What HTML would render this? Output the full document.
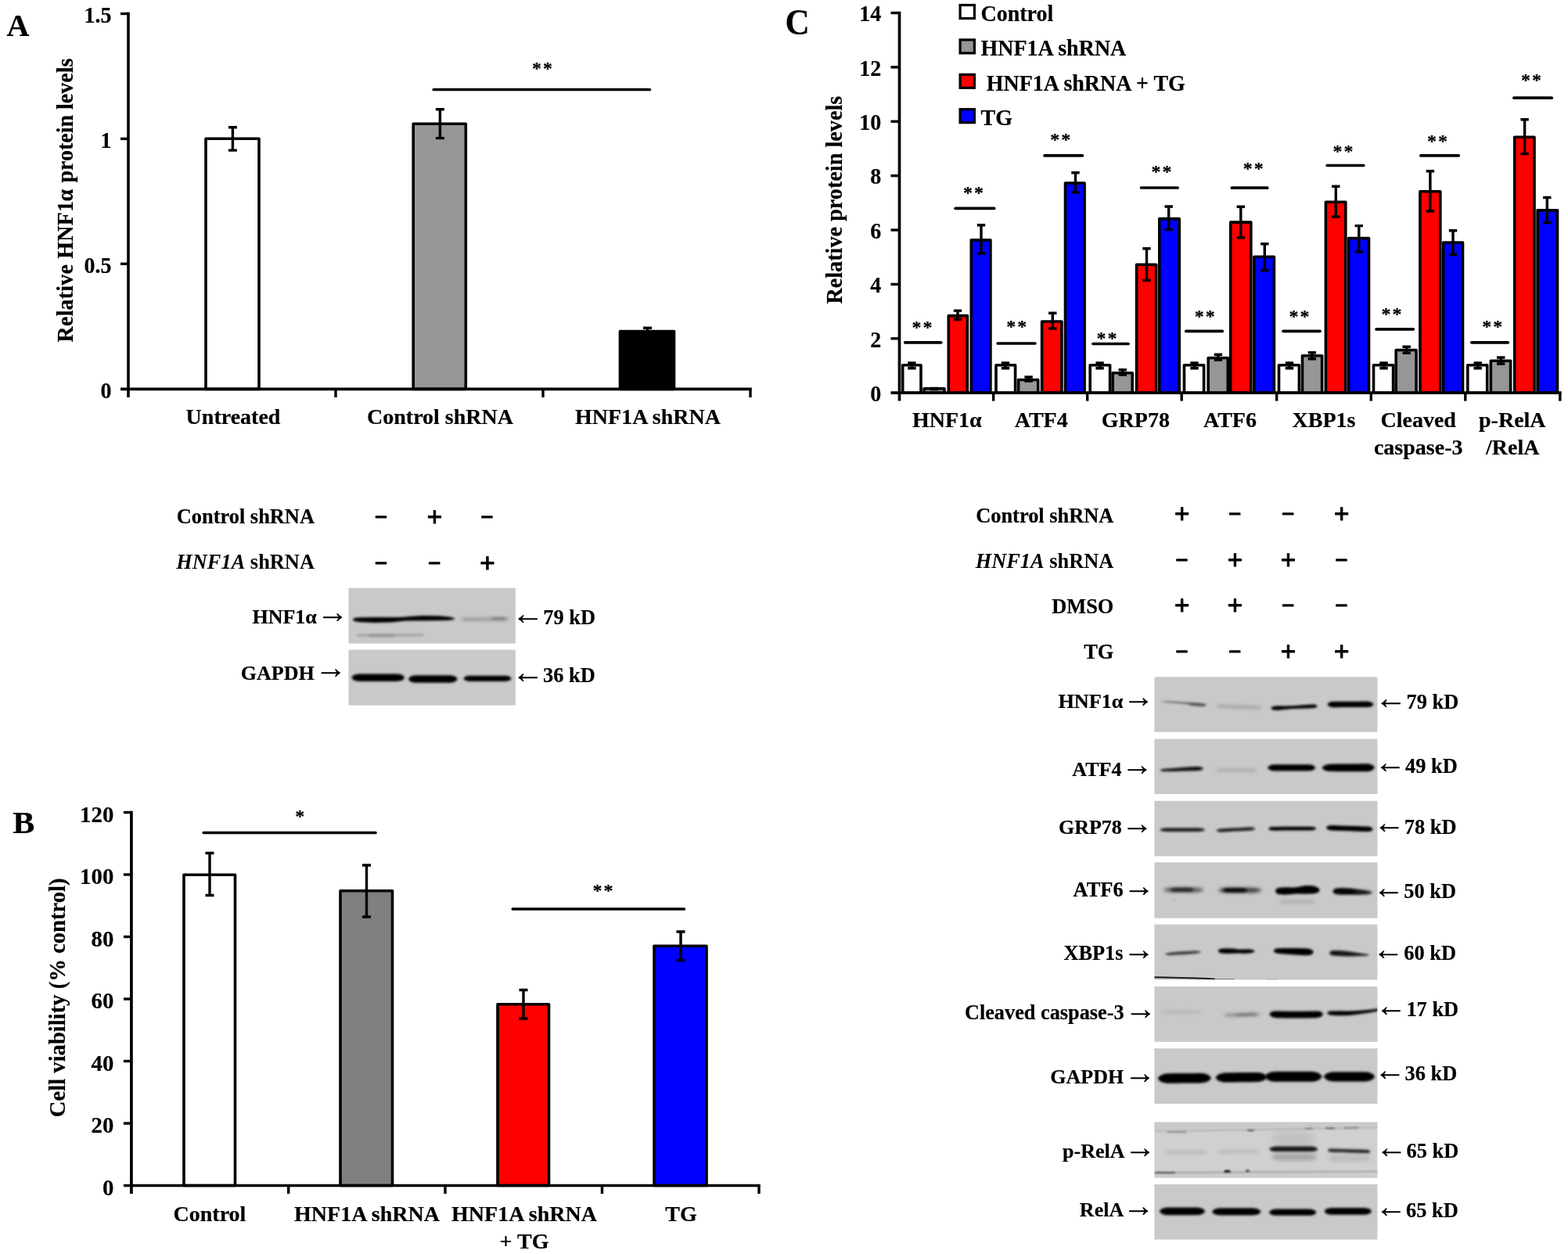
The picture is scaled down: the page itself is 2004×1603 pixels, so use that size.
<!DOCTYPE html>
<html lang="en"><head><meta charset="utf-8"><title>Figure</title>
<style>
html,body{margin:0;padding:0;background:#fff}
svg{display:block}
svg text{font-family:"Liberation Serif",serif;font-weight:bold;fill:#000}
</style></head><body>
<svg width="2004" height="1603" viewBox="0 0 2004 1603">
<defs>
<filter id="f0_78" x="-30%" y="-200%" width="160%" height="500%"><feGaussianBlur stdDeviation="0.78"/></filter>
<filter id="f0_9" x="-30%" y="-200%" width="160%" height="500%"><feGaussianBlur stdDeviation="0.9"/></filter>
<filter id="f1_01" x="-30%" y="-200%" width="160%" height="500%"><feGaussianBlur stdDeviation="1.01"/></filter>
<filter id="f1_12" x="-30%" y="-200%" width="160%" height="500%"><feGaussianBlur stdDeviation="1.12"/></filter>
<filter id="f1_34" x="-30%" y="-200%" width="160%" height="500%"><feGaussianBlur stdDeviation="1.34"/></filter>
<filter id="f1_46" x="-30%" y="-200%" width="160%" height="500%"><feGaussianBlur stdDeviation="1.46"/></filter>
<filter id="f1_57" x="-30%" y="-200%" width="160%" height="500%"><feGaussianBlur stdDeviation="1.57"/></filter>
<filter id="f1_62" x="-30%" y="-200%" width="160%" height="500%"><feGaussianBlur stdDeviation="1.62"/></filter>
<filter id="f1_68" x="-30%" y="-200%" width="160%" height="500%"><feGaussianBlur stdDeviation="1.68"/></filter>
<filter id="f1_79" x="-30%" y="-200%" width="160%" height="500%"><feGaussianBlur stdDeviation="1.79"/></filter>
<filter id="f1_9" x="-30%" y="-200%" width="160%" height="500%"><feGaussianBlur stdDeviation="1.9"/></filter>
<filter id="f2_13" x="-30%" y="-200%" width="160%" height="500%"><feGaussianBlur stdDeviation="2.13"/></filter>
<filter id="f2_24" x="-30%" y="-200%" width="160%" height="500%"><feGaussianBlur stdDeviation="2.24"/></filter>
<filter id="f2_91" x="-30%" y="-200%" width="160%" height="500%"><feGaussianBlur stdDeviation="2.91"/></filter>
<filter id="f3_36" x="-30%" y="-200%" width="160%" height="500%"><feGaussianBlur stdDeviation="3.36"/></filter>
<clipPath id="c1"><rect x="445.5" y="751.7" width="213.3" height="71"/></clipPath>
<clipPath id="c2"><rect x="445.5" y="830.5" width="213.3" height="71.2"/></clipPath>
<clipPath id="c3"><rect x="1475.4" y="865.3" width="285" height="70.5"/></clipPath>
<clipPath id="c4"><rect x="1475.4" y="944.6" width="285" height="70.4"/></clipPath>
<clipPath id="c5"><rect x="1475.4" y="1023.8" width="285" height="70.6"/></clipPath>
<clipPath id="c6"><rect x="1475.4" y="1102.3" width="285" height="71.4"/></clipPath>
<clipPath id="c7"><rect x="1475.4" y="1181.7" width="285" height="70.7"/></clipPath>
<clipPath id="c8"><rect x="1475.4" y="1261" width="285" height="70.8"/></clipPath>
<clipPath id="c9"><rect x="1475.4" y="1340.2" width="285" height="70.7"/></clipPath>
<clipPath id="c10"><rect x="1475.4" y="1434.4" width="285" height="71.3"/></clipPath>
<clipPath id="c11"><rect x="1475.4" y="1514" width="285" height="70.5"/></clipPath>
</defs>
<rect width="2004" height="1603" fill="#fff"/>
<text x="8.5" y="45.5" font-size="40" stroke="#000" stroke-width="0.2" stroke-linejoin="round">A</text>
<text font-size="40" transform="translate(16.3 1065) scale(1.05 1.02)" stroke="#000" stroke-width="0.2" stroke-linejoin="round">B</text>
<text font-size="40" transform="translate(1003.6 44.3) scale(1.08 1.15)" stroke="#000" stroke-width="0.2" stroke-linejoin="round">C</text>
<rect x="263.00" y="177.20" width="68.00" height="320.20" fill="#fff" stroke="#000" stroke-width="3.6" stroke-linejoin="round"/>
<rect x="528.20" y="158.20" width="67.10" height="339.20" fill="#969696" stroke="#000" stroke-width="3.6" stroke-linejoin="round"/>
<rect x="792.50" y="423.50" width="69.00" height="73.90" fill="#000" stroke="#000" stroke-width="3.6" stroke-linejoin="round"/>
<path d="M291.90 162.70H302.90M291.90 192.10H302.90M297.40 162.70V192.10" stroke="#000" stroke-width="3.4" fill="none"/>
<path d="M556.90 139.70H567.90M556.90 176.60H567.90M562.40 139.70V176.60" stroke="#000" stroke-width="3.4" fill="none"/>
<path d="M822.00 419.30H833.00M822.00 424.00H833.00M827.50 419.30V424.00" stroke="#000" stroke-width="3.4" fill="none"/>
<line x1="164" y1="15.7" x2="164" y2="508.0" stroke="#000" stroke-width="3.6"/>
<line x1="154" y1="497.4" x2="960.8" y2="497.4" stroke="#000" stroke-width="3.6"/>
<line x1="154" y1="17.5" x2="164" y2="17.5" stroke="#000" stroke-width="3.4"/>
<line x1="154" y1="177.4" x2="164" y2="177.4" stroke="#000" stroke-width="3.4"/>
<line x1="154" y1="337.3" x2="164" y2="337.3" stroke="#000" stroke-width="3.4"/>
<line x1="429" y1="497.4" x2="429" y2="508.0" stroke="#000" stroke-width="3.4"/>
<line x1="694" y1="497.4" x2="694" y2="508.0" stroke="#000" stroke-width="3.4"/>
<line x1="959" y1="497.4" x2="959" y2="508.0" stroke="#000" stroke-width="3.4"/>
<text font-size="28" transform="translate(142.5 29.1) scale(1 1.04)" text-anchor="end" stroke="#000" stroke-width="0.2" stroke-linejoin="round">1.5</text>
<text font-size="28" transform="translate(142.5 189.0) scale(1 1.04)" text-anchor="end" stroke="#000" stroke-width="0.2" stroke-linejoin="round">1</text>
<text font-size="28" transform="translate(142.5 348.90000000000003) scale(1 1.04)" text-anchor="end" stroke="#000" stroke-width="0.2" stroke-linejoin="round">0.5</text>
<text font-size="28" transform="translate(142.5 509.0) scale(1 1.04)" text-anchor="end" stroke="#000" stroke-width="0.2" stroke-linejoin="round">0</text>
<text font-size="28" transform="translate(93.1 437.4) rotate(-90) scale(1 1.04)" stroke="#000" stroke-width="0.2" stroke-linejoin="round"><tspan letter-spacing="0.2">Relative HNF1</tspan><tspan dx="-0.56">α</tspan><tspan dx="1.34"> protein levels</tspan></text>
<text x="298" y="541.5" font-size="28" text-anchor="middle" stroke="#000" stroke-width="0.2" stroke-linejoin="round">Untreated</text>
<text x="562.5" y="541.5" font-size="28" text-anchor="middle" stroke="#000" stroke-width="0.2" stroke-linejoin="round">Control shRNA</text>
<text x="828" y="541.5" font-size="28" text-anchor="middle" stroke="#000" stroke-width="0.2" stroke-linejoin="round">HNF1A shRNA</text>
<line x1="554.3" y1="114.5" x2="830.4" y2="114.5" stroke="#000" stroke-width="3.7" stroke-linecap="round"/>
<text x="679.9" y="95.39" font-size="24" letter-spacing="2" stroke="#000" stroke-width="0.2" stroke-linejoin="round">**</text>
<text x="402" y="669" font-size="26.4" text-anchor="end" stroke="#000" stroke-width="0.2" stroke-linejoin="round">Control shRNA</text>
<text x="402" y="727" font-size="26.4" text-anchor="end"><tspan style="font-style:italic">HNF1A</tspan> shRNA</text>
<text x="487.2" y="670.04" font-size="27.2" text-anchor="middle" style="font-weight:normal;font-family:'Liberation Sans',sans-serif;" stroke="#000" stroke-width="1.37" stroke-linejoin="round">−</text>
<text x="555.4" y="672.06" font-size="33.25" text-anchor="middle" style="font-weight:normal;font-family:'Liberation Sans',sans-serif;" stroke="#000" stroke-width="1.04" stroke-linejoin="round">+</text>
<text x="622.7" y="670.04" font-size="27.2" text-anchor="middle" style="font-weight:normal;font-family:'Liberation Sans',sans-serif;" stroke="#000" stroke-width="1.37" stroke-linejoin="round">−</text>
<text x="487.2" y="728.84" font-size="27.2" text-anchor="middle" style="font-weight:normal;font-family:'Liberation Sans',sans-serif;" stroke="#000" stroke-width="1.37" stroke-linejoin="round">−</text>
<text x="555.4" y="728.84" font-size="27.2" text-anchor="middle" style="font-weight:normal;font-family:'Liberation Sans',sans-serif;" stroke="#000" stroke-width="1.37" stroke-linejoin="round">−</text>
<text x="622.9" y="730.86" font-size="33.25" text-anchor="middle" style="font-weight:normal;font-family:'Liberation Sans',sans-serif;" stroke="#000" stroke-width="1.04" stroke-linejoin="round">+</text>
<rect x="445.5" y="751.7" width="213.3" height="71" fill="#c9c9c9"/>
<g clip-path="url(#c1)">
<path d="M451.0 791.2L454.0 789.8L460.0 789.2L480.0 789.0L500.0 788.9L510.0 789.1L516.0 788.8L524.0 788.0L540.0 787.1L560.0 787.3L572.0 788.3L578.0 789.3L581.0 790.5L581.0 791.5L578.0 792.3L572.0 792.9L560.0 793.3L540.0 793.5L524.0 793.6L516.0 793.8L510.0 794.5L500.0 795.5L480.0 796.0L460.0 795.2L454.0 794.2L451.0 792.8Z" fill="#000" filter="url(#f1_46)"/>
<path d="M590.0 791.6L590.9 790.7L592.1 790.3L593.5 790.2L600.0 790.1L610.0 790.0L620.0 789.9L630.0 789.8L640.0 789.7L646.5 789.6L647.9 789.8L649.1 790.1L650.0 791.0L650.0 791.4L649.1 792.3L647.9 792.7L646.5 792.8L640.0 792.9L630.0 793.0L620.0 793.1L610.0 793.2L600.0 793.3L593.5 793.4L592.1 793.2L590.9 792.9L590.0 792.0Z" fill="#555" opacity="0.55" filter="url(#f1_9)"/>
<path d="M628.0 790.4L629.0 789.4L630.3 789.0L631.0 788.9L631.9 788.9L634.0 788.9L637.0 788.9L640.0 788.9L642.1 788.9L643.0 788.9L643.7 789.0L645.0 789.4L646.0 790.4L646.0 790.8L645.0 791.8L643.7 792.2L643.0 792.3L642.1 792.4L640.0 792.4L637.0 792.4L634.0 792.4L631.9 792.4L631.0 792.3L630.3 792.2L629.0 791.8L628.0 790.8Z" fill="#444" opacity="0.35" filter="url(#f1_79)"/>
<path d="M456.0 812.0L456.8 811.2L458.0 810.8L459.3 810.7L470.3 810.6L484.7 810.5L499.0 810.4L513.3 810.3L527.7 810.2L538.7 810.1L540.0 810.2L541.2 810.6L542.0 811.4L542.0 811.8L541.2 812.6L540.0 813.0L538.7 813.1L527.7 813.2L513.3 813.3L499.0 813.4L484.7 813.5L470.3 813.6L459.3 813.7L458.0 813.6L456.8 813.2L456.0 812.4Z" fill="#666" opacity="0.42" filter="url(#f1_79)"/>
<path d="M470.0 812.4L470.8 811.6L472.0 811.2L473.3 811.1L475.8 811.1L481.7 811.1L487.5 811.1L493.3 811.1L499.2 811.1L501.7 811.1L503.0 811.2L504.2 811.6L505.0 812.4L505.0 812.8L504.2 813.6L503.0 814.0L501.7 814.1L499.2 814.1L493.3 814.1L487.5 814.1L481.7 814.1L475.8 814.1L473.3 814.1L472.0 814.0L470.8 813.6L470.0 812.8Z" fill="#555" opacity="0.3" filter="url(#f1_68)"/>
</g>
<rect x="445.5" y="830.5" width="213.3" height="71.2" fill="#c9c9c9"/>
<g clip-path="url(#c2)">
<path d="M449.5 865.6L452.1 863.0L455.8 861.8L460.1 861.4L460.8 861.4L472.0 861.4L483.2 861.4L494.5 861.4L505.7 861.4L506.4 861.4L510.7 861.8L514.4 863.0L517.0 865.6L517.0 866.8L514.4 869.4L510.7 870.6L506.4 871.0L505.7 871.0L494.5 871.0L483.2 871.0L472.0 871.0L460.8 871.0L460.1 871.0L455.8 870.6L452.1 869.4L449.5 866.8Z" fill="#000" filter="url(#f1_68)"/>
<path d="M522.0 867.4L524.6 864.8L528.3 863.6L532.4 863.2L532.6 863.2L542.8 863.2L553.2 863.2L563.7 863.2L573.9 863.2L574.1 863.2L578.2 863.6L581.9 864.8L584.5 867.4L584.5 868.6L581.9 871.2L578.2 872.4L574.1 872.8L573.9 872.8L563.7 872.8L553.2 872.8L542.8 872.8L532.6 872.8L532.4 872.8L528.3 872.4L524.6 871.2L522.0 868.6Z" fill="#000" filter="url(#f1_68)"/>
<path d="M592.5 866.9L594.5 864.9L597.3 864.0L600.4 863.7L602.7 863.7L612.8 863.7L623.0 863.7L633.2 863.7L643.3 863.7L645.6 863.7L648.7 864.0L651.5 864.9L653.5 866.9L653.5 867.7L651.5 869.7L648.7 870.6L645.6 870.9L643.3 870.9L633.2 870.9L623.0 870.9L612.8 870.9L602.7 870.9L600.4 870.9L597.3 870.6L594.5 869.7L592.5 867.7Z" fill="#000" filter="url(#f1_68)"/>
</g>
<text x="404.9" y="796.6" font-size="26.0" text-anchor="end" stroke="#000" stroke-width="0.2" stroke-linejoin="round">HNF1α</text>
<text x="404.93" y="796.23" font-size="40.54" style="font-weight:normal;" stroke="#000" stroke-width="0.25" stroke-linejoin="round">→</text>
<text x="401.7" y="868.5" font-size="26.0" text-anchor="end" stroke="#000" stroke-width="0.2" stroke-linejoin="round">GAPDH</text>
<text x="402.73" y="867.23" font-size="40.54" style="font-weight:normal;" stroke="#000" stroke-width="0.25" stroke-linejoin="round">→</text>
<text x="654.46" y="798.29" font-size="40.88" style="font-weight:normal;" stroke="#000" stroke-width="0.25" stroke-linejoin="round">←</text>
<text x="694.3" y="797.9" font-size="26.4" stroke="#000" stroke-width="0.2" stroke-linejoin="round">79 kD</text>
<text x="654.46" y="873.09" font-size="40.88" style="font-weight:normal;" stroke="#000" stroke-width="0.25" stroke-linejoin="round">←</text>
<text x="694.1" y="871.8" font-size="26.4" stroke="#000" stroke-width="0.2" stroke-linejoin="round">36 kD</text>
<rect x="235.00" y="1118.20" width="65.50" height="397.30" fill="#fff" stroke="#000" stroke-width="3.6" stroke-linejoin="round"/>
<rect x="435.00" y="1138.70" width="66.50" height="376.80" fill="#808080" stroke="#000" stroke-width="3.6" stroke-linejoin="round"/>
<rect x="636.00" y="1283.70" width="65.50" height="231.80" fill="#fe0000" stroke="#000" stroke-width="3.6" stroke-linejoin="round"/>
<rect x="836.00" y="1209.20" width="67.00" height="306.30" fill="#0000fe" stroke="#000" stroke-width="3.6" stroke-linejoin="round"/>
<path d="M262.50 1090.50H273.50M262.50 1144.50H273.50M268.00 1090.50V1144.50" stroke="#000" stroke-width="3.4" fill="none"/>
<path d="M463.00 1106.00H474.00M463.00 1172.00H474.00M468.50 1106.00V1172.00" stroke="#000" stroke-width="3.4" fill="none"/>
<path d="M663.50 1265.50H674.50M663.50 1302.00H674.50M669.00 1265.50V1302.00" stroke="#000" stroke-width="3.4" fill="none"/>
<path d="M864.50 1191.00H875.50M864.50 1227.50H875.50M870.00 1191.00V1227.50" stroke="#000" stroke-width="3.4" fill="none"/>
<line x1="167.9" y1="1036.7" x2="167.9" y2="1526.1" stroke="#000" stroke-width="3.8"/>
<line x1="157.9" y1="1515.5" x2="971.7" y2="1515.5" stroke="#000" stroke-width="3.7"/>
<line x1="157.9" y1="1038.5" x2="167.9" y2="1038.5" stroke="#000" stroke-width="3.4"/>
<line x1="157.9" y1="1118.0" x2="167.9" y2="1118.0" stroke="#000" stroke-width="3.4"/>
<line x1="157.9" y1="1197.5" x2="167.9" y2="1197.5" stroke="#000" stroke-width="3.4"/>
<line x1="157.9" y1="1277.0" x2="167.9" y2="1277.0" stroke="#000" stroke-width="3.4"/>
<line x1="157.9" y1="1356.5" x2="167.9" y2="1356.5" stroke="#000" stroke-width="3.4"/>
<line x1="157.9" y1="1436.0" x2="167.9" y2="1436.0" stroke="#000" stroke-width="3.4"/>
<line x1="368.7" y1="1515.5" x2="368.7" y2="1526.0" stroke="#000" stroke-width="3.4"/>
<line x1="569" y1="1515.5" x2="569" y2="1526.0" stroke="#000" stroke-width="3.4"/>
<line x1="769.5" y1="1515.5" x2="769.5" y2="1526.0" stroke="#000" stroke-width="3.4"/>
<line x1="970" y1="1515.5" x2="970" y2="1526.0" stroke="#000" stroke-width="3.4"/>
<text font-size="28" transform="translate(145.3 1050.6) scale(1.03 1.03)" text-anchor="end" stroke="#000" stroke-width="0.2" stroke-linejoin="round">120</text>
<text font-size="28" transform="translate(145.3 1130.1) scale(1.03 1.03)" text-anchor="end" stroke="#000" stroke-width="0.2" stroke-linejoin="round">100</text>
<text font-size="28" transform="translate(145.3 1209.6) scale(1.03 1.03)" text-anchor="end" stroke="#000" stroke-width="0.2" stroke-linejoin="round">80</text>
<text font-size="28" transform="translate(145.3 1289.1) scale(1.03 1.03)" text-anchor="end" stroke="#000" stroke-width="0.2" stroke-linejoin="round">60</text>
<text font-size="28" transform="translate(145.3 1368.6) scale(1.03 1.03)" text-anchor="end" stroke="#000" stroke-width="0.2" stroke-linejoin="round">40</text>
<text font-size="28" transform="translate(145.3 1448.1) scale(1.03 1.03)" text-anchor="end" stroke="#000" stroke-width="0.2" stroke-linejoin="round">20</text>
<text font-size="28" transform="translate(145.3 1527.6) scale(1.03 1.03)" text-anchor="end" stroke="#000" stroke-width="0.2" stroke-linejoin="round">0</text>
<text font-size="28" transform="translate(83 1275.3) rotate(-90) scale(1.023 1.02)" text-anchor="middle" stroke="#000" stroke-width="0.2" stroke-linejoin="round">Cell viability (% control)</text>
<text x="268" y="1561" font-size="28" text-anchor="middle" stroke="#000" stroke-width="0.2" stroke-linejoin="round">Control</text>
<text x="469" y="1561" font-size="28" text-anchor="middle" stroke="#000" stroke-width="0.2" stroke-linejoin="round">HNF1A shRNA</text>
<text x="670" y="1561" font-size="28" text-anchor="middle" stroke="#000" stroke-width="0.2" stroke-linejoin="round">HNF1A shRNA</text>
<text x="670" y="1596" font-size="28" text-anchor="middle" stroke="#000" stroke-width="0.2" stroke-linejoin="round">+ TG</text>
<text x="870.5" y="1561" font-size="28" text-anchor="middle" stroke="#000" stroke-width="0.2" stroke-linejoin="round">TG</text>
<line x1="260.3" y1="1064.5" x2="479.9" y2="1064.5" stroke="#000" stroke-width="3.7" stroke-linecap="round"/>
<text x="377.2" y="1051.39" font-size="24" letter-spacing="2" stroke="#000" stroke-width="0.2" stroke-linejoin="round">*</text>
<line x1="655.3" y1="1162" x2="874.4" y2="1162" stroke="#000" stroke-width="3.7" stroke-linecap="round"/>
<text x="757.6" y="1146.09" font-size="24" letter-spacing="2" stroke="#000" stroke-width="0.2" stroke-linejoin="round">**</text>
<rect x="1153.70" y="466.75" width="23.30" height="35.45" fill="#fff" stroke="#000" stroke-width="3.6" stroke-linejoin="round"/>
<rect x="1181.10" y="496.75" width="25.90" height="5.45" fill="#969696" stroke="#000" stroke-width="3.6" stroke-linejoin="round"/>
<rect x="1212.30" y="403.65" width="24.10" height="98.55" fill="#fe0000" stroke="#000" stroke-width="3.6" stroke-linejoin="round"/>
<rect x="1241.30" y="306.85" width="24.60" height="195.35" fill="#0000fe" stroke="#000" stroke-width="3.6" stroke-linejoin="round"/>
<rect x="1273.00" y="466.75" width="24.60" height="35.45" fill="#fff" stroke="#000" stroke-width="3.6" stroke-linejoin="round"/>
<rect x="1301.60" y="485.45" width="25.10" height="16.75" fill="#969696" stroke="#000" stroke-width="3.6" stroke-linejoin="round"/>
<rect x="1331.60" y="411.05" width="25.30" height="91.15" fill="#fe0000" stroke="#000" stroke-width="3.6" stroke-linejoin="round"/>
<rect x="1361.50" y="234.05" width="24.60" height="268.15" fill="#0000fe" stroke="#000" stroke-width="3.6" stroke-linejoin="round"/>
<rect x="1393.20" y="466.75" width="25.40" height="35.45" fill="#fff" stroke="#000" stroke-width="3.6" stroke-linejoin="round"/>
<rect x="1422.20" y="476.75" width="25.00" height="25.45" fill="#969696" stroke="#000" stroke-width="3.6" stroke-linejoin="round"/>
<rect x="1452.60" y="338.25" width="25.10" height="163.95" fill="#fe0000" stroke="#000" stroke-width="3.6" stroke-linejoin="round"/>
<rect x="1481.80" y="279.65" width="25.40" height="222.55" fill="#0000fe" stroke="#000" stroke-width="3.6" stroke-linejoin="round"/>
<rect x="1513.50" y="466.75" width="25.10" height="35.45" fill="#fff" stroke="#000" stroke-width="3.6" stroke-linejoin="round"/>
<rect x="1544.20" y="457.55" width="25.10" height="44.65" fill="#969696" stroke="#000" stroke-width="3.6" stroke-linejoin="round"/>
<rect x="1572.70" y="284.15" width="26.10" height="218.05" fill="#fe0000" stroke="#000" stroke-width="3.6" stroke-linejoin="round"/>
<rect x="1602.80" y="328.25" width="25.60" height="173.95" fill="#0000fe" stroke="#000" stroke-width="3.6" stroke-linejoin="round"/>
<rect x="1634.50" y="466.75" width="25.90" height="35.45" fill="#fff" stroke="#000" stroke-width="3.6" stroke-linejoin="round"/>
<rect x="1664.50" y="454.75" width="25.10" height="47.45" fill="#969696" stroke="#000" stroke-width="3.6" stroke-linejoin="round"/>
<rect x="1694.40" y="258.25" width="25.40" height="243.95" fill="#fe0000" stroke="#000" stroke-width="3.6" stroke-linejoin="round"/>
<rect x="1723.60" y="304.55" width="25.90" height="197.65" fill="#0000fe" stroke="#000" stroke-width="3.6" stroke-linejoin="round"/>
<rect x="1755.50" y="466.75" width="25.10" height="35.45" fill="#fff" stroke="#000" stroke-width="3.6" stroke-linejoin="round"/>
<rect x="1784.20" y="447.55" width="25.90" height="54.65" fill="#969696" stroke="#000" stroke-width="3.6" stroke-linejoin="round"/>
<rect x="1814.90" y="244.75" width="25.90" height="257.45" fill="#fe0000" stroke="#000" stroke-width="3.6" stroke-linejoin="round"/>
<rect x="1844.60" y="310.05" width="24.90" height="192.15" fill="#0000fe" stroke="#000" stroke-width="3.6" stroke-linejoin="round"/>
<rect x="1875.80" y="466.75" width="24.90" height="35.45" fill="#fff" stroke="#000" stroke-width="3.6" stroke-linejoin="round"/>
<rect x="1905.30" y="461.25" width="25.30" height="40.95" fill="#969696" stroke="#000" stroke-width="3.6" stroke-linejoin="round"/>
<rect x="1935.70" y="175.25" width="25.30" height="326.95" fill="#fe0000" stroke="#000" stroke-width="3.6" stroke-linejoin="round"/>
<rect x="1965.10" y="268.85" width="25.40" height="233.35" fill="#0000fe" stroke="#000" stroke-width="3.6" stroke-linejoin="round"/>
<path d="M1160.20 464.00H1170.60M1160.20 470.70H1170.60M1165.40 464.00V470.70" stroke="#000" stroke-width="3.4" fill="none"/>
<path d="M1188.80 496.50H1199.20M1188.80 497.50H1199.20M1194.00 496.50V497.50" stroke="#000" stroke-width="3.4" fill="none"/>
<path d="M1218.80 397.10H1229.20M1218.80 408.30H1229.20M1224.00 397.10V408.30" stroke="#000" stroke-width="3.4" fill="none"/>
<path d="M1248.80 287.80H1259.20M1248.80 324.00H1259.20M1254.00 287.80V324.00" stroke="#000" stroke-width="3.4" fill="none"/>
<path d="M1279.80 464.00H1290.20M1279.80 470.70H1290.20M1285.00 464.00V470.70" stroke="#000" stroke-width="3.4" fill="none"/>
<path d="M1309.40 482.00H1319.80M1309.40 487.00H1319.80M1314.60 482.00V487.00" stroke="#000" stroke-width="3.4" fill="none"/>
<path d="M1340.10 400.30H1350.50M1340.10 420.00H1350.50M1345.30 400.30V420.00" stroke="#000" stroke-width="3.4" fill="none"/>
<path d="M1369.30 220.70H1379.70M1369.30 245.90H1379.70M1374.50 220.70V245.90" stroke="#000" stroke-width="3.4" fill="none"/>
<path d="M1400.40 464.00H1410.80M1400.40 470.70H1410.80M1405.60 464.00V470.70" stroke="#000" stroke-width="3.4" fill="none"/>
<path d="M1429.60 472.70H1440.00M1429.60 479.00H1440.00M1434.80 472.70V479.00" stroke="#000" stroke-width="3.4" fill="none"/>
<path d="M1460.30 317.80H1470.70M1460.30 358.20H1470.70M1465.50 317.80V358.20" stroke="#000" stroke-width="3.4" fill="none"/>
<path d="M1488.50 264.00H1498.90M1488.50 293.50H1498.90M1493.70 264.00V293.50" stroke="#000" stroke-width="3.4" fill="none"/>
<path d="M1521.30 464.00H1531.70M1521.30 470.70H1531.70M1526.50 464.00V470.70" stroke="#000" stroke-width="3.4" fill="none"/>
<path d="M1551.70 453.20H1562.10M1551.70 460.00H1562.10M1556.90 453.20V460.00" stroke="#000" stroke-width="3.4" fill="none"/>
<path d="M1580.60 264.20H1591.00M1580.60 303.90H1591.00M1585.80 264.20V303.90" stroke="#000" stroke-width="3.4" fill="none"/>
<path d="M1611.10 311.80H1621.50M1611.10 345.50H1621.50M1616.30 311.80V345.50" stroke="#000" stroke-width="3.4" fill="none"/>
<path d="M1642.80 464.00H1653.20M1642.80 470.70H1653.20M1648.00 464.00V470.70" stroke="#000" stroke-width="3.4" fill="none"/>
<path d="M1671.70 450.70H1682.10M1671.70 458.70H1682.10M1676.90 450.70V458.70" stroke="#000" stroke-width="3.4" fill="none"/>
<path d="M1702.10 238.20H1712.50M1702.10 277.00H1712.50M1707.30 238.20V277.00" stroke="#000" stroke-width="3.4" fill="none"/>
<path d="M1731.60 288.60H1742.00M1731.60 321.80H1742.00M1736.80 288.60V321.80" stroke="#000" stroke-width="3.4" fill="none"/>
<path d="M1763.30 464.00H1773.70M1763.30 470.70H1773.70M1768.50 464.00V470.70" stroke="#000" stroke-width="3.4" fill="none"/>
<path d="M1792.50 443.30H1802.90M1792.50 451.20H1802.90M1797.70 443.30V451.20" stroke="#000" stroke-width="3.4" fill="none"/>
<path d="M1822.70 218.70H1833.10M1822.70 270.00H1833.10M1827.90 218.70V270.00" stroke="#000" stroke-width="3.4" fill="none"/>
<path d="M1851.80 294.80H1862.20M1851.80 325.50H1862.20M1857.00 294.80V325.50" stroke="#000" stroke-width="3.4" fill="none"/>
<path d="M1883.50 464.00H1893.90M1883.50 470.70H1893.90M1888.70 464.00V470.70" stroke="#000" stroke-width="3.4" fill="none"/>
<path d="M1913.00 457.00H1923.40M1913.00 465.00H1923.40M1918.20 457.00V465.00" stroke="#000" stroke-width="3.4" fill="none"/>
<path d="M1943.40 152.70H1953.80M1943.40 196.60H1953.80M1948.60 152.70V196.60" stroke="#000" stroke-width="3.4" fill="none"/>
<path d="M1972.10 252.50H1982.50M1972.10 284.60H1982.50M1977.30 252.50V284.60" stroke="#000" stroke-width="3.4" fill="none"/>
<line x1="1149.5" y1="14.7" x2="1149.5" y2="512.6" stroke="#000" stroke-width="3.7"/>
<line x1="1138.5" y1="502.2" x2="1995.6" y2="502.2" stroke="#000" stroke-width="3.7"/>
<line x1="1138.5" y1="16.5" x2="1149.5" y2="16.5" stroke="#000" stroke-width="3.4"/>
<line x1="1138.5" y1="85.88" x2="1149.5" y2="85.88" stroke="#000" stroke-width="3.4"/>
<line x1="1138.5" y1="155.26" x2="1149.5" y2="155.26" stroke="#000" stroke-width="3.4"/>
<line x1="1138.5" y1="224.64" x2="1149.5" y2="224.64" stroke="#000" stroke-width="3.4"/>
<line x1="1138.5" y1="294.02" x2="1149.5" y2="294.02" stroke="#000" stroke-width="3.4"/>
<line x1="1138.5" y1="363.4" x2="1149.5" y2="363.4" stroke="#000" stroke-width="3.4"/>
<line x1="1138.5" y1="432.78" x2="1149.5" y2="432.78" stroke="#000" stroke-width="3.4"/>
<line x1="1269.7" y1="502.2" x2="1269.7" y2="512.6" stroke="#000" stroke-width="3.4"/>
<line x1="1389.7" y1="502.2" x2="1389.7" y2="512.6" stroke="#000" stroke-width="3.4"/>
<line x1="1510.2" y1="502.2" x2="1510.2" y2="512.6" stroke="#000" stroke-width="3.4"/>
<line x1="1631.7" y1="502.2" x2="1631.7" y2="512.6" stroke="#000" stroke-width="3.4"/>
<line x1="1752.3" y1="502.2" x2="1752.3" y2="512.6" stroke="#000" stroke-width="3.4"/>
<line x1="1872.8" y1="502.2" x2="1872.8" y2="512.6" stroke="#000" stroke-width="3.4"/>
<line x1="1993.8" y1="502.2" x2="1993.8" y2="512.6" stroke="#000" stroke-width="3.4"/>
<text font-size="28" transform="translate(1126.3 27.3) scale(1 1.07)" text-anchor="end" stroke="#000" stroke-width="0.2" stroke-linejoin="round">14</text>
<text font-size="28" transform="translate(1126.3 96.68) scale(1 1.07)" text-anchor="end" stroke="#000" stroke-width="0.2" stroke-linejoin="round">12</text>
<text font-size="28" transform="translate(1126.3 166.06) scale(1 1.07)" text-anchor="end" stroke="#000" stroke-width="0.2" stroke-linejoin="round">10</text>
<text font-size="28" transform="translate(1126.3 235.44) scale(1 1.07)" text-anchor="end" stroke="#000" stroke-width="0.2" stroke-linejoin="round">8</text>
<text font-size="28" transform="translate(1126.3 304.82) scale(1 1.07)" text-anchor="end" stroke="#000" stroke-width="0.2" stroke-linejoin="round">6</text>
<text font-size="28" transform="translate(1126.3 374.2) scale(1 1.07)" text-anchor="end" stroke="#000" stroke-width="0.2" stroke-linejoin="round">4</text>
<text font-size="28" transform="translate(1126.3 443.58) scale(1 1.07)" text-anchor="end" stroke="#000" stroke-width="0.2" stroke-linejoin="round">2</text>
<text font-size="28" transform="translate(1126.3 512.96) scale(1 1.07)" text-anchor="end" stroke="#000" stroke-width="0.2" stroke-linejoin="round">0</text>
<text font-size="28" transform="translate(1075.6 255.7) rotate(-90) scale(1.008 1.03)" text-anchor="middle" stroke="#000" stroke-width="0.2" stroke-linejoin="round">Relative protein levels</text>
<text x="1210.3" y="546.3" font-size="28" text-anchor="middle" stroke="#000" stroke-width="0.2" stroke-linejoin="round">HNF1α</text>
<text x="1330.7" y="546.3" font-size="28" text-anchor="middle" stroke="#000" stroke-width="0.2" stroke-linejoin="round">ATF4</text>
<text x="1451.4" y="546.3" font-size="28" text-anchor="middle" stroke="#000" stroke-width="0.2" stroke-linejoin="round">GRP78</text>
<text x="1572" y="546.3" font-size="28" text-anchor="middle" stroke="#000" stroke-width="0.2" stroke-linejoin="round">ATF6</text>
<text x="1692" y="546.3" font-size="28" text-anchor="middle" stroke="#000" stroke-width="0.2" stroke-linejoin="round">XBP1s</text>
<text x="1812.7" y="546.3" font-size="28" text-anchor="middle" stroke="#000" stroke-width="0.2" stroke-linejoin="round">Cleaved</text>
<text x="1932.8" y="546.3" font-size="28" text-anchor="middle" stroke="#000" stroke-width="0.2" stroke-linejoin="round">p-RelA</text>
<text x="1812.7" y="580.5" font-size="28" text-anchor="middle" stroke="#000" stroke-width="0.2" stroke-linejoin="round">caspase-3</text>
<text x="1933.2" y="580.5" font-size="28" text-anchor="middle" stroke="#000" stroke-width="0.2" stroke-linejoin="round">/RelA</text>
<line x1="1156.7" y1="437.8" x2="1202.7" y2="437.8" stroke="#000" stroke-width="3.7" stroke-linecap="round"/>
<text x="1165.6" y="425.79" font-size="24" letter-spacing="2" stroke="#000" stroke-width="0.2" stroke-linejoin="round">**</text>
<line x1="1275.2" y1="439" x2="1322.9" y2="439" stroke="#000" stroke-width="3.7" stroke-linecap="round"/>
<text x="1286.3" y="425.09" font-size="24" letter-spacing="2" stroke="#000" stroke-width="0.2" stroke-linejoin="round">**</text>
<line x1="1397.0" y1="439.5" x2="1442.0" y2="439.5" stroke="#000" stroke-width="3.7" stroke-linecap="round"/>
<text x="1401.5" y="439.59" font-size="24" letter-spacing="2" stroke="#000" stroke-width="0.2" stroke-linejoin="round">**</text>
<line x1="1515.8" y1="423.3" x2="1562.3" y2="423.3" stroke="#000" stroke-width="3.7" stroke-linecap="round"/>
<text x="1526.8" y="412.09" font-size="24" letter-spacing="2" stroke="#000" stroke-width="0.2" stroke-linejoin="round">**</text>
<line x1="1640.0" y1="423.3" x2="1687.0" y2="423.3" stroke="#000" stroke-width="3.7" stroke-linecap="round"/>
<text x="1647.6" y="411.79" font-size="24" letter-spacing="2" stroke="#000" stroke-width="0.2" stroke-linejoin="round">**</text>
<line x1="1759.0" y1="420.8" x2="1806.3" y2="420.8" stroke="#000" stroke-width="3.7" stroke-linecap="round"/>
<text x="1765.5" y="408.79" font-size="24" letter-spacing="2" stroke="#000" stroke-width="0.2" stroke-linejoin="round">**</text>
<line x1="1880.8" y1="437.8" x2="1927.3" y2="437.8" stroke="#000" stroke-width="3.7" stroke-linecap="round"/>
<text x="1894.3" y="425.09" font-size="24" letter-spacing="2" stroke="#000" stroke-width="0.2" stroke-linejoin="round">**</text>
<line x1="1221.1" y1="266.3" x2="1270.6" y2="266.3" stroke="#000" stroke-width="3.7" stroke-linecap="round"/>
<text x="1231.1" y="254.19" font-size="24" letter-spacing="2" stroke="#000" stroke-width="0.2" stroke-linejoin="round">**</text>
<line x1="1335.1" y1="198.9" x2="1383.4" y2="198.9" stroke="#000" stroke-width="3.7" stroke-linecap="round"/>
<text x="1342.3" y="185.79" font-size="24" letter-spacing="2" stroke="#000" stroke-width="0.2" stroke-linejoin="round">**</text>
<line x1="1458.6" y1="240" x2="1505.1" y2="240" stroke="#000" stroke-width="3.7" stroke-linecap="round"/>
<text x="1471.6" y="227.49" font-size="24" letter-spacing="2" stroke="#000" stroke-width="0.2" stroke-linejoin="round">**</text>
<line x1="1574.4" y1="240.2" x2="1619.7" y2="240.2" stroke="#000" stroke-width="3.7" stroke-linecap="round"/>
<text x="1588.8" y="222.59" font-size="24" letter-spacing="2" stroke="#000" stroke-width="0.2" stroke-linejoin="round">**</text>
<line x1="1696.2" y1="211.5" x2="1742.7" y2="211.5" stroke="#000" stroke-width="3.7" stroke-linecap="round"/>
<text x="1703.5" y="200.89" font-size="24" letter-spacing="2" stroke="#000" stroke-width="0.2" stroke-linejoin="round">**</text>
<line x1="1815.9" y1="198.9" x2="1864.2" y2="198.9" stroke="#000" stroke-width="3.7" stroke-linecap="round"/>
<text x="1824.1" y="187.69" font-size="24" letter-spacing="2" stroke="#000" stroke-width="0.2" stroke-linejoin="round">**</text>
<line x1="1934.9" y1="125.2" x2="1983.2" y2="125.2" stroke="#000" stroke-width="3.7" stroke-linecap="round"/>
<text x="1944.1" y="110.29" font-size="24" letter-spacing="2" stroke="#000" stroke-width="0.2" stroke-linejoin="round">**</text>
<rect x="1227.1" y="6.50" width="18.3" height="17" fill="#fff" stroke="#000" stroke-width="3.2"/>
<rect x="1227.1" y="50.90" width="18.3" height="17" fill="#969696" stroke="#000" stroke-width="3.2"/>
<rect x="1227.1" y="95.30" width="18.3" height="17" fill="#fe0000" stroke="#000" stroke-width="3.2"/>
<rect x="1227.1" y="139.70" width="18.3" height="17" fill="#0000fe" stroke="#000" stroke-width="3.2"/>
<text font-size="28" transform="translate(1253.5 26.8) scale(1 1.03)" stroke="#000" stroke-width="0.2" stroke-linejoin="round">Control</text>
<text font-size="28" transform="translate(1253.5 71.3) scale(1 1.03)" stroke="#000" stroke-width="0.2" stroke-linejoin="round">HNF1A shRNA</text>
<text font-size="28" transform="translate(1260.7 115.8) scale(1 1.03)" stroke="#000" stroke-width="0.2" stroke-linejoin="round">HNF1A shRNA + TG</text>
<text font-size="28" transform="translate(1253.5 159.6) scale(1 1.03)" stroke="#000" stroke-width="0.2" stroke-linejoin="round">TG</text>
<text x="1423.4" y="668.4" font-size="26.4" text-anchor="end" stroke="#000" stroke-width="0.2" stroke-linejoin="round">Control shRNA</text>
<text x="1423.4" y="725.6" font-size="26.4" text-anchor="end"><tspan style="font-style:italic">HNF1A</tspan> shRNA</text>
<text x="1423.4" y="783.6" font-size="26.4" text-anchor="end" stroke="#000" stroke-width="0.2" stroke-linejoin="round">DMSO</text>
<text x="1423.4" y="841.8" font-size="26.4" text-anchor="end" stroke="#000" stroke-width="0.2" stroke-linejoin="round">TG</text>
<text x="1510.6" y="667.76" font-size="33.25" text-anchor="middle" style="font-weight:normal;font-family:'Liberation Sans',sans-serif;" stroke="#000" stroke-width="1.04" stroke-linejoin="round">+</text>
<text x="1578.5" y="665.74" font-size="27.2" text-anchor="middle" style="font-weight:normal;font-family:'Liberation Sans',sans-serif;" stroke="#000" stroke-width="1.37" stroke-linejoin="round">−</text>
<text x="1646.4" y="665.74" font-size="27.2" text-anchor="middle" style="font-weight:normal;font-family:'Liberation Sans',sans-serif;" stroke="#000" stroke-width="1.37" stroke-linejoin="round">−</text>
<text x="1714.8" y="667.76" font-size="33.25" text-anchor="middle" style="font-weight:normal;font-family:'Liberation Sans',sans-serif;" stroke="#000" stroke-width="1.04" stroke-linejoin="round">+</text>
<text x="1510.6" y="724.74" font-size="27.2" text-anchor="middle" style="font-weight:normal;font-family:'Liberation Sans',sans-serif;" stroke="#000" stroke-width="1.37" stroke-linejoin="round">−</text>
<text x="1578.5" y="726.76" font-size="33.25" text-anchor="middle" style="font-weight:normal;font-family:'Liberation Sans',sans-serif;" stroke="#000" stroke-width="1.04" stroke-linejoin="round">+</text>
<text x="1646.4" y="726.76" font-size="33.25" text-anchor="middle" style="font-weight:normal;font-family:'Liberation Sans',sans-serif;" stroke="#000" stroke-width="1.04" stroke-linejoin="round">+</text>
<text x="1714.8" y="724.74" font-size="27.2" text-anchor="middle" style="font-weight:normal;font-family:'Liberation Sans',sans-serif;" stroke="#000" stroke-width="1.37" stroke-linejoin="round">−</text>
<text x="1510.6" y="784.76" font-size="33.25" text-anchor="middle" style="font-weight:normal;font-family:'Liberation Sans',sans-serif;" stroke="#000" stroke-width="1.04" stroke-linejoin="round">+</text>
<text x="1578.5" y="784.76" font-size="33.25" text-anchor="middle" style="font-weight:normal;font-family:'Liberation Sans',sans-serif;" stroke="#000" stroke-width="1.04" stroke-linejoin="round">+</text>
<text x="1646.4" y="782.74" font-size="27.2" text-anchor="middle" style="font-weight:normal;font-family:'Liberation Sans',sans-serif;" stroke="#000" stroke-width="1.37" stroke-linejoin="round">−</text>
<text x="1714.8" y="782.74" font-size="27.2" text-anchor="middle" style="font-weight:normal;font-family:'Liberation Sans',sans-serif;" stroke="#000" stroke-width="1.37" stroke-linejoin="round">−</text>
<text x="1510.6" y="841.74" font-size="27.2" text-anchor="middle" style="font-weight:normal;font-family:'Liberation Sans',sans-serif;" stroke="#000" stroke-width="1.37" stroke-linejoin="round">−</text>
<text x="1578.5" y="841.74" font-size="27.2" text-anchor="middle" style="font-weight:normal;font-family:'Liberation Sans',sans-serif;" stroke="#000" stroke-width="1.37" stroke-linejoin="round">−</text>
<text x="1646.4" y="843.76" font-size="33.25" text-anchor="middle" style="font-weight:normal;font-family:'Liberation Sans',sans-serif;" stroke="#000" stroke-width="1.04" stroke-linejoin="round">+</text>
<text x="1714.8" y="843.76" font-size="33.25" text-anchor="middle" style="font-weight:normal;font-family:'Liberation Sans',sans-serif;" stroke="#000" stroke-width="1.04" stroke-linejoin="round">+</text>
<rect x="1475.4" y="865.3" width="285" height="70.5" fill="#c9c9c9"/>
<g clip-path="url(#c3)">
<path d="M1484.0 896.2L1495.0 896.2L1510.0 897.2L1522.0 898.1L1532.0 898.9L1538.0 899.7L1541.5 900.9L1541.5 901.9L1538.0 902.7L1532.0 902.5L1522.0 901.1L1510.0 899.6L1495.0 898.2L1484.0 897.0Z" fill="#333" opacity="0.62" filter="url(#f1_57)"/>
<path d="M1520.0 900.0L1520.8 899.3L1522.0 898.9L1523.3 898.9L1523.5 898.9L1527.0 899.1L1530.5 899.2L1534.0 899.4L1537.5 899.6L1537.7 899.6L1539.0 899.8L1540.2 900.3L1541.0 901.1L1541.0 901.5L1540.2 902.2L1539.0 902.6L1537.7 902.6L1537.5 902.6L1534.0 902.4L1530.5 902.2L1527.0 902.1L1523.5 901.9L1523.3 901.9L1522.0 901.7L1520.8 901.2L1520.0 900.4Z" fill="#222" opacity="0.45" filter="url(#f1_46)"/>
<path d="M1555.3 902.5L1556.1 901.7L1557.3 901.4L1558.6 901.3L1564.8 901.5L1574.3 901.8L1583.8 902.2L1593.2 902.5L1602.7 902.8L1608.9 903.0L1610.2 903.2L1611.4 903.6L1612.2 904.4L1612.2 904.8L1611.4 905.6L1610.2 905.9L1608.9 906.0L1602.7 905.8L1593.2 905.5L1583.8 905.2L1574.3 904.8L1564.8 904.5L1558.6 904.3L1557.3 904.1L1556.1 903.7L1555.3 902.9Z" fill="#555" opacity="0.42" filter="url(#f1_9)"/>
<path d="M1624.6 904.5L1627.0 902.9L1633.0 902.3L1641.0 902.4L1652.0 902.3L1662.0 901.5L1672.0 900.7L1680.0 900.6L1683.5 902.0L1683.5 903.5L1680.0 905.0L1672.0 905.5L1662.0 905.7L1652.0 906.1L1641.0 907.0L1633.0 907.9L1627.0 907.5L1624.6 906.0Z" fill="#000" filter="url(#f1_34)"/>
<path d="M1696.6 900.1L1698.6 898.0L1701.5 897.1L1704.7 896.8L1706.4 896.8L1716.2 896.7L1726.0 896.7L1735.8 896.7L1745.6 896.6L1747.3 896.6L1750.5 896.9L1753.4 897.9L1755.4 899.9L1755.4 900.7L1753.4 902.8L1750.5 903.7L1747.3 904.0L1745.6 904.0L1735.8 904.1L1726.0 904.1L1716.2 904.1L1706.4 904.2L1704.7 904.2L1701.5 903.9L1698.6 902.9L1696.6 900.9Z" fill="#000" filter="url(#f1_57)"/>
</g>
<rect x="1475.4" y="944.6" width="285" height="70.4" fill="#c9c9c9"/>
<g clip-path="url(#c4)">
<path d="M1483.0 984.1L1487.0 983.0L1500.0 982.0L1515.0 980.8L1528.0 980.0L1534.0 980.2L1537.5 981.8L1537.5 983.2L1534.0 984.8L1528.0 985.2L1515.0 985.6L1500.0 986.0L1487.0 986.0L1483.0 985.1Z" fill="#0c0c0c" filter="url(#f1_57)"/>
<path d="M1553.8 984.0L1554.9 982.9L1556.4 982.4L1558.2 982.2L1562.5 982.2L1571.3 982.2L1580.0 982.2L1588.7 982.2L1597.5 982.2L1601.8 982.2L1603.6 982.4L1605.1 982.9L1606.2 984.0L1606.2 984.4L1605.1 985.5L1603.6 986.0L1601.8 986.2L1597.5 986.2L1588.7 986.2L1580.0 986.2L1571.3 986.2L1562.5 986.2L1558.2 986.2L1556.4 986.0L1554.9 985.5L1553.8 984.4Z" fill="#666" opacity="0.3" filter="url(#f2_24)"/>
<path d="M1620.2 980.9L1622.5 978.7L1625.6 977.6L1629.2 977.3L1630.4 977.3L1640.5 977.3L1650.7 977.3L1660.9 977.3L1671.0 977.3L1672.2 977.3L1675.8 977.6L1678.9 978.7L1681.2 980.9L1681.2 981.9L1678.9 984.1L1675.8 985.2L1672.2 985.5L1671.0 985.5L1660.9 985.5L1650.7 985.5L1640.5 985.5L1630.4 985.5L1629.2 985.5L1625.6 985.2L1622.5 984.1L1620.2 981.9Z" fill="#000" filter="url(#f1_68)"/>
<path d="M1689.8 980.9L1692.6 978.4L1696.5 977.2L1701.0 976.8L1701.0 976.8L1712.1 976.6L1723.3 976.5L1734.5 976.4L1745.6 976.2L1745.6 976.2L1750.1 976.6L1754.0 977.9L1756.8 980.6L1756.8 981.8L1754.0 984.6L1750.1 985.9L1745.6 986.3L1745.6 986.3L1734.5 986.2L1723.3 986.2L1712.1 986.2L1701.0 986.1L1701.0 986.1L1696.5 985.7L1692.6 984.5L1689.8 982.1Z" fill="#000" filter="url(#f1_79)"/>
</g>
<rect x="1475.4" y="1023.8" width="285" height="70.6" fill="#c9c9c9"/>
<g clip-path="url(#c5)">
<path d="M1482.5 1060.5L1484.8 1059.3L1487.9 1058.8L1491.5 1058.6L1492.1 1058.6L1501.6 1058.6L1511.2 1058.6L1520.7 1058.6L1530.2 1058.6L1530.8 1058.6L1534.4 1058.8L1537.5 1059.3L1539.8 1060.5L1539.8 1061.1L1537.5 1062.3L1534.4 1062.8L1530.8 1063.0L1530.2 1063.0L1520.7 1063.0L1511.2 1063.0L1501.6 1063.0L1492.1 1063.0L1491.5 1063.0L1487.9 1062.8L1484.8 1062.3L1482.5 1061.1Z" fill="#0c0c0c" opacity="0.95" filter="url(#f1_57)"/>
<path d="M1554.6 1061.4L1556.6 1060.2L1559.4 1059.5L1562.6 1059.2L1562.9 1059.2L1571.1 1058.8L1579.4 1058.4L1587.7 1058.0L1595.9 1057.6L1596.2 1057.6L1599.4 1057.6L1602.2 1058.0L1604.2 1059.0L1604.2 1059.6L1602.2 1060.8L1599.4 1061.5L1596.2 1061.8L1595.9 1061.8L1587.7 1062.2L1579.4 1062.6L1571.1 1063.0L1562.9 1063.4L1562.6 1063.4L1559.4 1063.4L1556.6 1063.0L1554.6 1062.0Z" fill="#0c0c0c" opacity="0.93" filter="url(#f1_57)"/>
<path d="M1621.0 1059.0L1622.8 1057.7L1625.2 1057.1L1628.0 1056.9L1631.2 1056.9L1641.3 1056.8L1651.5 1056.8L1661.7 1056.8L1671.8 1056.7L1675.0 1056.7L1677.8 1056.9L1680.2 1057.5L1682.0 1058.8L1682.0 1059.4L1680.2 1060.7L1677.8 1061.3L1675.0 1061.5L1671.8 1061.5L1661.7 1061.6L1651.5 1061.6L1641.3 1061.6L1631.2 1061.7L1628.0 1061.7L1625.2 1061.5L1622.8 1060.9L1621.0 1059.6Z" fill="#050505" filter="url(#f1_57)"/>
<path d="M1695.0 1057.7L1696.8 1056.0L1699.4 1055.2L1702.3 1055.0L1704.9 1055.1L1714.9 1055.4L1724.8 1055.8L1734.7 1056.1L1744.7 1056.4L1747.3 1056.5L1750.2 1056.8L1752.8 1057.8L1754.6 1059.6L1754.6 1060.4L1752.8 1062.1L1750.2 1062.9L1747.3 1063.1L1744.7 1063.0L1734.7 1062.7L1724.8 1062.3L1714.9 1062.0L1704.9 1061.7L1702.3 1061.6L1699.4 1061.3L1696.8 1060.3L1695.0 1058.5Z" fill="#000" filter="url(#f1_68)"/>
</g>
<rect x="1475.4" y="1102.3" width="285" height="71.4" fill="#c9c9c9"/>
<g clip-path="url(#c6)">
<path d="M1487.0 1137.2L1490.5 1135.6L1495.4 1134.9L1495.6 1134.8L1501.0 1134.6L1504.2 1134.6L1512.8 1134.6L1521.3 1134.6L1524.5 1134.6L1529.9 1134.8L1530.1 1134.9L1535.0 1135.6L1538.5 1137.2L1538.5 1138.0L1535.0 1139.6L1530.1 1140.3L1529.9 1140.4L1524.5 1140.6L1521.3 1140.6L1512.8 1140.6L1504.2 1140.6L1501.0 1140.6L1495.6 1140.4L1495.4 1140.3L1490.5 1139.6L1487.0 1138.0Z" fill="#333" opacity="0.74" filter="url(#f2_13)"/>
<path d="M1496.0 1137.1L1498.0 1135.9L1500.8 1135.3L1501.0 1135.3L1504.0 1135.1L1506.0 1135.1L1511.0 1135.1L1516.0 1135.1L1518.0 1135.1L1521.0 1135.3L1521.2 1135.3L1524.0 1135.9L1526.0 1137.1L1526.0 1137.7L1524.0 1138.9L1521.2 1139.5L1521.0 1139.5L1518.0 1139.7L1516.0 1139.7L1511.0 1139.7L1506.0 1139.7L1504.0 1139.7L1501.0 1139.5L1500.8 1139.5L1498.0 1138.9L1496.0 1137.7Z" fill="#0a0a0a" opacity="0.7" filter="url(#f1_68)"/>
<path d="M1557.5 1137.6L1561.0 1135.8L1565.9 1135.0L1566.6 1134.9L1571.5 1134.7L1575.7 1134.7L1584.8 1134.7L1593.8 1134.7L1598.0 1134.7L1602.9 1134.9L1603.6 1135.0L1608.5 1135.8L1612.0 1137.6L1612.0 1138.4L1608.5 1140.2L1603.6 1141.0L1602.9 1141.1L1598.0 1141.3L1593.8 1141.3L1584.8 1141.3L1575.7 1141.3L1571.5 1141.3L1566.6 1141.1L1565.9 1141.0L1561.0 1140.2L1557.5 1138.4Z" fill="#222" opacity="0.82" filter="url(#f2_13)"/>
<path d="M1563.0 1137.7L1565.0 1136.3L1567.8 1135.6L1568.2 1135.6L1571.0 1135.4L1573.3 1135.4L1578.5 1135.4L1583.7 1135.4L1586.0 1135.4L1588.8 1135.6L1589.2 1135.6L1592.0 1136.3L1594.0 1137.7L1594.0 1138.3L1592.0 1139.7L1589.2 1140.4L1588.8 1140.4L1586.0 1140.6L1583.7 1140.6L1578.5 1140.6L1573.3 1140.6L1571.0 1140.6L1568.2 1140.4L1567.8 1140.4L1565.0 1139.7L1563.0 1138.3Z" fill="#000" opacity="0.85" filter="url(#f1_68)"/>
<path d="M1630.0 1138.0L1633.0 1135.0L1642.0 1134.2L1652.0 1134.5L1658.0 1134.0L1668.0 1132.1L1678.0 1132.2L1684.0 1134.3L1686.5 1137.0L1686.5 1139.0L1684.0 1141.3L1678.0 1142.6L1668.0 1142.7L1658.0 1142.6L1652.0 1143.1L1642.0 1143.8L1633.0 1143.0L1630.0 1140.0Z" fill="#000" filter="url(#f1_79)"/>
<path d="M1636.0 1152.3L1637.2 1151.2L1638.8 1150.7L1640.6 1150.5L1643.5 1150.5L1651.0 1150.5L1658.5 1150.5L1666.0 1150.5L1673.5 1150.5L1676.4 1150.5L1678.2 1150.7L1679.8 1151.2L1681.0 1152.3L1681.0 1152.9L1679.8 1154.0L1678.2 1154.5L1676.4 1154.7L1673.5 1154.7L1666.0 1154.7L1658.5 1154.7L1651.0 1154.7L1643.5 1154.7L1640.6 1154.7L1638.8 1154.5L1637.2 1154.0L1636.0 1152.9Z" fill="#777" opacity="0.33" filter="url(#f2_24)"/>
<path d="M1703.5 1138.4L1706.5 1135.7L1714.0 1134.9L1726.0 1135.5L1736.0 1137.0L1746.0 1138.4L1753.0 1140.2L1753.0 1141.8L1746.0 1143.0L1736.0 1143.4L1726.0 1143.7L1714.0 1143.7L1706.5 1143.1L1703.5 1140.4Z" fill="#050505" opacity="0.97" filter="url(#f1_62)"/>
<path d="M1730.0 1140.2L1731.7 1138.6L1734.0 1137.9L1734.0 1137.8L1736.6 1137.6L1738.0 1137.6L1742.0 1137.6L1746.0 1137.6L1747.4 1137.6L1750.0 1137.8L1750.0 1137.9L1752.4 1138.6L1754.0 1140.2L1754.0 1141.0L1752.4 1142.6L1750.0 1143.3L1750.0 1143.4L1747.4 1143.6L1746.0 1143.6L1742.0 1143.6L1738.0 1143.6L1736.6 1143.6L1734.0 1143.4L1734.0 1143.3L1731.7 1142.6L1730.0 1141.0Z" fill="#444" opacity="0.35" filter="url(#f2_24)"/>
<path d="M1498.5 1150.9L1499.0 1150.4L1499.0 1150.3L1499.3 1150.2L1499.5 1150.2L1499.8 1150.1L1500.0 1150.1L1500.2 1150.1L1500.5 1150.2L1500.7 1150.2L1501.0 1150.3L1501.0 1150.4L1501.5 1150.9L1501.5 1151.1L1501.0 1151.6L1501.0 1151.7L1500.7 1151.8L1500.5 1151.8L1500.2 1151.9L1500.0 1151.9L1499.8 1151.9L1499.5 1151.8L1499.3 1151.8L1499.0 1151.7L1499.0 1151.6L1498.5 1151.1Z" fill="#555" opacity="0.4" filter="url(#f1_12)"/>
</g>
<rect x="1475.4" y="1181.7" width="285" height="70.7" fill="#c9c9c9"/>
<g clip-path="url(#c7)">
<path d="M1489.0 1219.5L1492.0 1218.3L1496.2 1217.5L1496.7 1217.4L1501.0 1217.0L1504.3 1216.8L1512.0 1216.3L1519.7 1215.9L1523.0 1215.7L1527.3 1215.5L1527.8 1215.5L1532.0 1215.7L1535.0 1216.6L1535.0 1217.0L1532.0 1218.2L1527.8 1219.0L1527.3 1219.1L1523.0 1219.5L1519.7 1219.7L1512.0 1220.2L1504.3 1220.6L1501.0 1220.8L1496.7 1221.0L1496.2 1221.0L1492.0 1220.8L1489.0 1219.9Z" fill="#1a1a1a" opacity="0.82" filter="url(#f1_68)"/>
<path d="M1557.0 1214.6L1560.0 1212.8L1568.0 1212.2L1578.0 1212.8L1583.0 1213.8L1590.0 1213.5L1597.0 1213.5L1601.0 1214.3L1603.5 1215.5L1603.5 1216.5L1601.0 1217.7L1597.0 1218.5L1590.0 1218.9L1583.0 1218.6L1578.0 1218.8L1568.0 1219.0L1560.0 1218.4L1557.0 1216.6Z" fill="#050505" filter="url(#f1_68)"/>
<path d="M1628.0 1214.6L1631.0 1212.6L1640.0 1212.0L1655.0 1212.1L1668.0 1212.3L1674.0 1212.9L1677.0 1214.4L1678.6 1216.2L1678.6 1217.7L1677.0 1219.4L1674.0 1220.9L1668.0 1221.3L1655.0 1220.5L1640.0 1219.6L1631.0 1218.6L1628.0 1216.6Z" fill="#000" filter="url(#f1_68)"/>
<path d="M1699.3 1217.3L1702.0 1215.3L1710.0 1214.9L1722.0 1216.0L1732.0 1217.6L1741.0 1218.9L1749.0 1220.2L1749.0 1221.4L1741.0 1222.1L1732.0 1222.2L1722.0 1222.4L1710.0 1222.1L1702.0 1221.3L1699.3 1219.3Z" fill="#080808" opacity="0.95" filter="url(#f1_79)"/>
<path d="M1474.0 1248.3L1490.0 1248.6L1520.0 1249.3L1545.0 1250.1L1553.0 1250.8L1553.0 1252.0L1545.0 1251.9L1520.0 1251.3L1490.0 1250.6L1474.0 1250.3Z" fill="#0a0a0a" opacity="0.92" filter="url(#f0_78)"/>
<path d="M1553.0 1251.5L1553.4 1251.1L1553.9 1251.0L1554.5 1250.9L1557.2 1250.9L1561.3 1250.9L1565.5 1250.9L1569.7 1250.9L1573.8 1250.9L1576.5 1250.9L1577.1 1251.0L1577.6 1251.1L1578.0 1251.5L1578.0 1251.7L1577.6 1252.1L1577.1 1252.2L1576.5 1252.3L1573.8 1252.3L1569.7 1252.3L1565.5 1252.3L1561.3 1252.3L1557.2 1252.3L1554.5 1252.3L1553.9 1252.2L1553.4 1252.1L1553.0 1251.7Z" fill="#333" opacity="0.45" filter="url(#f0_78)"/>
<path d="M1618.0 1251.9L1618.3 1251.6L1618.8 1251.5L1619.3 1251.4L1620.7 1251.4L1623.3 1251.4L1626.0 1251.4L1628.7 1251.4L1631.3 1251.4L1632.7 1251.4L1633.2 1251.5L1633.7 1251.6L1634.0 1251.9L1634.0 1252.1L1633.7 1252.4L1633.2 1252.5L1632.7 1252.6L1631.3 1252.6L1628.7 1252.6L1626.0 1252.6L1623.3 1252.6L1620.7 1252.6L1619.3 1252.6L1618.8 1252.5L1618.3 1252.4L1618.0 1252.1Z" fill="#444" opacity="0.3" filter="url(#f0_78)"/>
</g>
<rect x="1475.4" y="1261" width="285" height="70.8" fill="#c9c9c9"/>
<g clip-path="url(#c8)">
<path d="M1483.5 1293.2L1484.4 1292.3L1485.7 1291.9L1487.2 1291.7L1492.1 1291.8L1500.7 1291.9L1509.2 1292.0L1517.8 1292.1L1526.4 1292.2L1531.3 1292.3L1532.8 1292.4L1534.1 1292.9L1535.0 1293.8L1535.0 1294.2L1534.1 1295.1L1532.8 1295.5L1531.3 1295.7L1526.4 1295.6L1517.8 1295.5L1509.2 1295.4L1500.7 1295.3L1492.1 1295.2L1487.2 1295.1L1485.7 1295.0L1484.4 1294.5L1483.5 1293.6Z" fill="#777" opacity="0.26" filter="url(#f2_13)"/>
<path d="M1564.0 1297.9L1566.5 1296.8L1570.0 1296.1L1571.8 1296.0L1574.0 1295.8L1579.7 1295.6L1587.5 1295.3L1595.3 1295.1L1601.0 1294.9L1603.2 1294.8L1605.0 1294.9L1608.5 1295.2L1611.0 1296.2L1611.0 1296.6L1608.5 1297.7L1605.0 1298.4L1603.2 1298.5L1601.0 1298.7L1595.3 1298.9L1587.5 1299.2L1579.7 1299.4L1574.0 1299.6L1571.8 1299.7L1570.0 1299.6L1566.5 1299.3L1564.0 1298.3Z" fill="#444" opacity="0.5" filter="url(#f1_9)"/>
<path d="M1580.0 1297.1L1580.8 1296.3L1582.0 1295.9L1583.3 1295.7L1584.3 1295.7L1588.7 1295.6L1593.0 1295.4L1597.3 1295.3L1601.7 1295.2L1602.7 1295.2L1604.0 1295.3L1605.2 1295.6L1606.0 1296.4L1606.0 1296.8L1605.2 1297.6L1604.0 1298.0L1602.7 1298.2L1601.7 1298.2L1597.3 1298.3L1593.0 1298.4L1588.7 1298.6L1584.3 1298.7L1583.3 1298.7L1582.0 1298.6L1580.8 1298.3L1580.0 1297.5Z" fill="#333" opacity="0.3" filter="url(#f1_68)"/>
<path d="M1622.4 1295.9L1624.8 1293.6L1628.2 1292.6L1632.1 1292.4L1633.8 1292.4L1645.3 1292.7L1656.7 1292.8L1668.1 1292.7L1679.6 1292.4L1681.3 1292.4L1685.2 1292.6L1688.6 1293.6L1691.0 1295.9L1691.0 1296.9L1688.6 1299.4L1685.2 1300.7L1681.3 1301.2L1679.6 1301.2L1668.1 1301.5L1656.7 1301.6L1645.3 1301.5L1633.8 1301.2L1632.1 1301.2L1628.2 1300.7L1624.8 1299.4L1622.4 1296.9Z" fill="#000" filter="url(#f1_68)"/>
<path d="M1696.5 1294.0L1700.0 1292.5L1710.0 1292.3L1724.0 1292.4L1738.0 1291.7L1750.0 1290.8L1762.0 1289.3L1762.0 1292.3L1750.0 1294.4L1738.0 1296.3L1724.0 1298.0L1710.0 1298.3L1700.0 1297.5L1696.5 1296.0Z" fill="#040404" filter="url(#f1_57)"/>
</g>
<rect x="1475.4" y="1340.2" width="285" height="70.7" fill="#c9c9c9"/>
<g clip-path="url(#c9)">
<path d="M1480.0 1377.8L1483.5 1374.4L1488.3 1372.8L1491.3 1372.3L1493.9 1372.2L1502.6 1372.1L1513.9 1372.0L1525.2 1371.9L1533.9 1371.8L1536.5 1371.9L1539.5 1372.3L1544.3 1373.9L1547.8 1377.2L1547.8 1378.8L1544.3 1382.2L1539.5 1383.8L1536.5 1384.3L1533.9 1384.4L1525.2 1384.5L1513.9 1384.6L1502.6 1384.7L1493.9 1384.8L1491.3 1384.7L1488.3 1384.3L1483.5 1382.7L1480.0 1379.4Z" fill="#000" filter="url(#f1_79)"/>
<path d="M1553.6 1376.9L1557.0 1373.5L1561.7 1371.9L1564.5 1371.5L1567.0 1371.3L1575.4 1371.2L1586.3 1371.1L1597.2 1371.0L1605.6 1370.9L1608.1 1370.9L1610.9 1371.3L1615.6 1372.8L1619.0 1376.1L1619.0 1377.5L1615.6 1380.9L1610.9 1382.5L1608.1 1382.9L1605.6 1383.1L1597.2 1383.2L1586.3 1383.3L1575.4 1383.4L1567.0 1383.5L1564.5 1383.5L1561.7 1383.1L1557.0 1381.6L1553.6 1378.3Z" fill="#000" filter="url(#f1_79)"/>
<path d="M1616.5 1375.5L1620.1 1372.0L1625.1 1370.3L1628.7 1369.9L1630.8 1369.8L1640.8 1369.8L1653.0 1369.8L1665.2 1369.8L1675.2 1369.8L1677.3 1369.9L1680.9 1370.3L1685.9 1372.0L1689.5 1375.5L1689.5 1377.1L1685.9 1380.6L1680.9 1382.3L1677.3 1382.7L1675.2 1382.8L1665.2 1382.8L1653.0 1382.8L1640.8 1382.8L1630.8 1382.8L1628.7 1382.7L1625.1 1382.3L1620.1 1380.6L1616.5 1377.1Z" fill="#000" filter="url(#f1_79)"/>
<path d="M1692.0 1375.6L1695.4 1372.3L1700.1 1370.7L1702.8 1370.3L1705.4 1370.2L1713.7 1370.2L1724.5 1370.2L1735.3 1370.2L1743.6 1370.2L1746.2 1370.3L1748.9 1370.7L1753.6 1372.3L1757.0 1375.6L1757.0 1377.0L1753.6 1380.3L1748.9 1381.9L1746.2 1382.3L1743.6 1382.4L1735.3 1382.4L1724.5 1382.4L1713.7 1382.4L1705.4 1382.4L1702.8 1382.3L1700.1 1381.9L1695.4 1380.3L1692.0 1377.0Z" fill="#000" filter="url(#f1_79)"/>
</g>
<rect x="1475.4" y="1434.4" width="285" height="71.3" fill="#d0d0d0"/>
<g clip-path="url(#c10)">
<path d="M1475 1434H1761V1441.5L1475 1446.5Z" fill="#c4c4c4" opacity="0.45"/>
<path d="M1475 1498.6L1761 1497.2V1506H1475Z" fill="#c8c8c8" opacity="0.3"/>
<path d="M1475.6 1446.0L1761.4 1441.0A0.6 0.6 0 0 1 1761.4 1442.2L1475.6 1447.2A0.6 0.6 0 0 1 1475.6 1446.0Z" fill="#777" opacity="0.4" filter="url(#f0_9)"/>
<path d="M1475.7 1498.3L1761.3 1496.8A0.7 0.7 0 0 1 1761.3 1498.1L1475.7 1499.7A0.7 0.7 0 0 1 1475.7 1498.3Z" fill="#555" opacity="0.45" filter="url(#f0_9)"/>
<path d="M1476.9 1498.3L1501.1 1498.3A0.9 0.9 0 0 1 1501.1 1500.1L1476.9 1500.1A0.9 0.9 0 0 1 1476.9 1498.3Z" fill="#111" opacity="0.6" filter="url(#f0_9)"/>
<path d="M1566.0 1495.8L1571.0 1495.8A1.5 1.5 0 0 1 1571.0 1498.8L1566.0 1498.8A1.5 1.5 0 0 1 1566.0 1495.8Z" fill="#000" opacity="0.9" filter="url(#f1_01)"/>
<path d="M1593.2 1495.5L1595.8 1495.5A1.2 1.2 0 0 1 1595.8 1498.0L1593.2 1498.0A1.2 1.2 0 0 1 1593.2 1495.5Z" fill="#000" opacity="0.7" filter="url(#f1_01)"/>
<path d="M1493.0 1446.2L1515.0 1446.2A1.0 1.0 0 0 1 1515.0 1448.2L1493.0 1448.2A1.0 1.0 0 0 1 1493.0 1446.2Z" fill="#444" opacity="0.45" filter="url(#f1_12)"/>
<path d="M1595.0 1443.9L1602.0 1443.9A1.0 1.0 0 0 1 1602.0 1445.9L1595.0 1445.9A1.0 1.0 0 0 1 1595.0 1443.9Z" fill="#222" opacity="0.6" filter="url(#f1_01)"/>
<path d="M1668.9 1441.7L1677.1 1441.7A0.9 0.9 0 0 1 1677.1 1443.5L1668.9 1443.5A0.9 0.9 0 0 1 1668.9 1441.7Z" fill="#333" opacity="0.5" filter="url(#f0_9)"/>
<path d="M1694.9 1441.3L1705.1 1441.3A0.9 0.9 0 0 1 1705.1 1443.1L1694.9 1443.1A0.9 0.9 0 0 1 1694.9 1441.3Z" fill="#222" opacity="0.6" filter="url(#f0_9)"/>
<path d="M1718.8 1441.0L1735.2 1441.0A0.8 0.8 0 0 1 1735.2 1442.6L1718.8 1442.6A0.8 0.8 0 0 1 1718.8 1441.0Z" fill="#333" opacity="0.5" filter="url(#f0_9)"/>
<path d="M1624.0 1454.8L1629.5 1449.4L1633.7 1447.7L1637.2 1446.8L1643.3 1446.1L1646.0 1446.0L1653.0 1446.0L1660.0 1446.0L1662.7 1446.1L1668.8 1446.8L1672.3 1447.7L1676.5 1449.4L1682.0 1454.8L1682.0 1457.2L1676.5 1462.6L1672.3 1464.3L1668.8 1465.2L1662.7 1465.9L1660.0 1466.0L1653.0 1466.0L1646.0 1466.0L1643.3 1465.9L1637.2 1465.2L1633.7 1464.3L1629.5 1462.6L1624.0 1457.2Z" fill="#888" opacity="0.2" filter="url(#f3_36)"/>
<path d="M1625.0 1478.5L1627.5 1476.0L1630.9 1474.9L1634.7 1474.5L1634.9 1474.5L1644.3 1474.5L1654.0 1474.5L1663.7 1474.5L1673.1 1474.5L1673.3 1474.5L1677.1 1474.9L1680.5 1476.0L1683.0 1478.5L1683.0 1479.5L1680.5 1482.0L1677.1 1483.1L1673.3 1483.5L1673.1 1483.5L1663.7 1483.5L1654.0 1483.5L1644.3 1483.5L1634.9 1483.5L1634.7 1483.5L1630.9 1483.1L1627.5 1482.0L1625.0 1479.5Z" fill="#555" opacity="0.33" filter="url(#f2_91)"/>
<path d="M1698.0 1480.0L1700.2 1477.9L1703.3 1476.8L1706.8 1476.5L1707.0 1476.5L1716.0 1476.5L1725.0 1476.5L1734.0 1476.5L1743.0 1476.5L1743.2 1476.5L1746.7 1476.8L1749.8 1477.9L1752.0 1480.0L1752.0 1481.0L1749.8 1483.1L1746.7 1484.2L1743.2 1484.5L1743.0 1484.5L1734.0 1484.5L1725.0 1484.5L1716.0 1484.5L1707.0 1484.5L1706.8 1484.5L1703.3 1484.2L1700.2 1483.1L1698.0 1481.0Z" fill="#777" opacity="0.22" filter="url(#f2_91)"/>
<path d="M1489.0 1472.8L1489.9 1471.9L1491.2 1471.4L1492.7 1471.3L1498.1 1471.3L1507.2 1471.3L1516.2 1471.3L1525.3 1471.3L1534.4 1471.3L1539.8 1471.3L1541.3 1471.4L1542.6 1471.9L1543.5 1472.8L1543.5 1473.2L1542.6 1474.1L1541.3 1474.6L1539.8 1474.7L1534.4 1474.7L1525.3 1474.7L1516.2 1474.7L1507.2 1474.7L1498.1 1474.7L1492.7 1474.7L1491.2 1474.6L1489.9 1474.1L1489.0 1473.2Z" fill="#777" opacity="0.3" filter="url(#f1_9)"/>
<path d="M1556.5 1472.0L1557.4 1471.1L1558.7 1470.6L1560.2 1470.5L1565.3 1470.4L1574.0 1470.3L1582.8 1470.2L1591.5 1470.1L1600.2 1470.0L1605.3 1469.9L1606.8 1470.1L1608.1 1470.5L1609.0 1471.4L1609.0 1471.8L1608.1 1472.7L1606.8 1473.2L1605.3 1473.3L1600.2 1473.4L1591.5 1473.5L1582.8 1473.6L1574.0 1473.7L1565.3 1473.8L1560.2 1473.9L1558.7 1473.7L1557.4 1473.3L1556.5 1472.4Z" fill="#777" opacity="0.32" filter="url(#f1_9)"/>
<path d="M1622.4 1468.4L1624.4 1466.7L1627.2 1465.9L1630.4 1465.6L1632.7 1465.6L1642.9 1465.6L1653.2 1465.6L1663.5 1465.6L1673.7 1465.6L1676.0 1465.6L1679.2 1465.9L1682.0 1466.7L1684.0 1468.4L1684.0 1469.2L1682.0 1470.9L1679.2 1471.7L1676.0 1472.0L1673.7 1472.0L1663.5 1472.0L1653.2 1472.0L1642.9 1472.0L1632.7 1472.0L1630.4 1472.0L1627.2 1471.7L1624.4 1470.9L1622.4 1469.2Z" fill="#0a0a0a" opacity="0.95" filter="url(#f1_79)"/>
<path d="M1697.0 1470.1L1698.2 1469.0L1699.9 1468.5L1701.8 1468.3L1706.1 1468.5L1715.2 1468.7L1724.2 1469.0L1733.3 1469.3L1742.4 1469.5L1746.7 1469.7L1748.6 1469.9L1750.3 1470.5L1751.5 1471.7L1751.5 1472.3L1750.3 1473.4L1748.6 1473.9L1746.7 1474.1L1742.4 1473.9L1733.3 1473.7L1724.2 1473.4L1715.2 1473.1L1706.1 1472.9L1701.8 1472.7L1699.9 1472.5L1698.2 1471.9L1697.0 1470.7Z" fill="#1a1a1a" opacity="0.92" filter="url(#f1_68)"/>
</g>
<rect x="1475.4" y="1514" width="285" height="70.5" fill="#c9c9c9"/>
<g clip-path="url(#c11)">
<path d="M1482.0 1547.8L1484.7 1545.2L1488.5 1543.9L1491.7 1543.5L1492.8 1543.5L1501.3 1543.5L1511.0 1543.5L1520.7 1543.5L1529.2 1543.5L1530.3 1543.5L1533.5 1543.9L1537.3 1545.2L1540.0 1547.8L1540.0 1549.0L1537.3 1551.6L1533.5 1552.9L1530.3 1553.3L1529.2 1553.3L1520.7 1553.3L1511.0 1553.3L1501.3 1553.3L1492.8 1553.3L1491.7 1553.3L1488.5 1552.9L1484.7 1551.6L1482.0 1549.0Z" fill="#000" filter="url(#f1_68)"/>
<path d="M1549.3 1548.3L1551.8 1545.9L1555.4 1544.7L1559.4 1544.3L1559.6 1544.3L1570.0 1544.3L1580.3 1544.3L1590.6 1544.3L1601.0 1544.3L1601.2 1544.3L1605.2 1544.7L1608.8 1545.9L1611.3 1548.3L1611.3 1549.5L1608.8 1551.9L1605.2 1553.1L1601.2 1553.5L1601.0 1553.5L1590.6 1553.5L1580.3 1553.5L1570.0 1553.5L1559.6 1553.5L1559.4 1553.5L1555.4 1553.1L1551.8 1551.9L1549.3 1549.5Z" fill="#000" filter="url(#f1_68)"/>
<path d="M1622.0 1549.2L1624.3 1547.0L1627.4 1545.9L1631.0 1545.6L1632.1 1545.6L1642.1 1545.6L1652.2 1545.6L1662.2 1545.6L1672.2 1545.6L1673.3 1545.6L1676.9 1545.9L1680.0 1547.0L1682.3 1549.2L1682.3 1550.2L1680.0 1552.4L1676.9 1553.5L1673.3 1553.8L1672.2 1553.8L1662.2 1553.8L1652.2 1553.8L1642.1 1553.8L1632.1 1553.8L1631.0 1553.8L1627.4 1553.5L1624.3 1552.4L1622.0 1550.2Z" fill="#000" filter="url(#f1_68)"/>
<path d="M1692.6 1547.9L1695.0 1545.5L1698.4 1544.4L1702.3 1544.0L1702.7 1544.0L1712.7 1544.0L1722.8 1544.0L1732.9 1544.0L1742.9 1544.0L1743.3 1544.0L1747.2 1544.4L1750.6 1545.5L1753.0 1547.9L1753.0 1548.9L1750.6 1551.3L1747.2 1552.4L1743.3 1552.8L1742.9 1552.8L1732.9 1552.8L1722.8 1552.8L1712.7 1552.8L1702.7 1552.8L1702.3 1552.8L1698.4 1552.4L1695.0 1551.3L1692.6 1548.9Z" fill="#000" filter="url(#f1_68)"/>
</g>
<text x="1435.5" y="904.7" font-size="26.2" text-anchor="end" stroke="#000" stroke-width="0.2" stroke-linejoin="round">HNF1α</text>
<text x="1435.03" y="904.35" font-size="40.03" style="font-weight:normal;" stroke="#000" stroke-width="0.25" stroke-linejoin="round">→</text>
<text x="1433.4" y="992" font-size="26.0" text-anchor="end" stroke="#000" stroke-width="0.2" stroke-linejoin="round">ATF4</text>
<text x="1433.36" y="991.4" font-size="40.37" style="font-weight:normal;" stroke="#000" stroke-width="0.25" stroke-linejoin="round">→</text>
<text x="1433.8" y="1066.4" font-size="26.0" text-anchor="end" stroke="#000" stroke-width="0.2" stroke-linejoin="round">GRP78</text>
<text x="1433.36" y="1066.3" font-size="40.37" style="font-weight:normal;" stroke="#000" stroke-width="0.25" stroke-linejoin="round">→</text>
<text x="1435.6" y="1145.8" font-size="26.4" text-anchor="end" stroke="#000" stroke-width="0.2" stroke-linejoin="round">ATF6</text>
<text x="1435.5" y="1145.67" font-size="40.2" style="font-weight:normal;" stroke="#000" stroke-width="0.25" stroke-linejoin="round">→</text>
<text x="1435.4" y="1226.9" font-size="26.3" text-anchor="end" stroke="#000" stroke-width="0.2" stroke-linejoin="round">XBP1s</text>
<text x="1435.5" y="1226.87" font-size="40.2" style="font-weight:normal;" stroke="#000" stroke-width="0.25" stroke-linejoin="round">→</text>
<text x="1436.7" y="1302.9" font-size="26.3" text-anchor="end" stroke="#000" stroke-width="0.2" stroke-linejoin="round">Cleaved caspase-3</text>
<text x="1437.63" y="1303.43" font-size="40.54" style="font-weight:normal;" stroke="#000" stroke-width="0.25" stroke-linejoin="round">→</text>
<text x="1436.2" y="1385.2" font-size="26.0" text-anchor="end" stroke="#000" stroke-width="0.2" stroke-linejoin="round">GAPDH</text>
<text x="1436.93" y="1385.15" font-size="40.03" style="font-weight:normal;" stroke="#000" stroke-width="0.25" stroke-linejoin="round">→</text>
<text x="1437.5" y="1479.6" font-size="26.0" text-anchor="end" stroke="#000" stroke-width="0.2" stroke-linejoin="round">p-RelA</text>
<text x="1436.93" y="1480.05" font-size="40.03" style="font-weight:normal;" stroke="#000" stroke-width="0.25" stroke-linejoin="round">→</text>
<text x="1436.2" y="1555" font-size="26.0" text-anchor="end" stroke="#000" stroke-width="0.2" stroke-linejoin="round">RelA</text>
<text x="1434.93" y="1555.03" font-size="40.54" style="font-weight:normal;" stroke="#000" stroke-width="0.25" stroke-linejoin="round">→</text>
<text x="1757.46" y="906.09" font-size="40.88" style="font-weight:normal;" stroke="#000" stroke-width="0.25" stroke-linejoin="round">←</text>
<text x="1797.5" y="906" font-size="26.4" stroke="#000" stroke-width="0.2" stroke-linejoin="round">79 kD</text>
<text x="1756.83" y="988.15" font-size="40.03" style="font-weight:normal;" stroke="#000" stroke-width="0.25" stroke-linejoin="round">←</text>
<text x="1796" y="988.2" font-size="26.4" stroke="#000" stroke-width="0.2" stroke-linejoin="round">49 kD</text>
<text x="1755.43" y="1065.45" font-size="40.03" style="font-weight:normal;" stroke="#000" stroke-width="0.25" stroke-linejoin="round">←</text>
<text x="1794.8" y="1066.1" font-size="26.4" stroke="#000" stroke-width="0.2" stroke-linejoin="round">78 kD</text>
<text x="1754.8" y="1147.87" font-size="40.2" style="font-weight:normal;" stroke="#000" stroke-width="0.25" stroke-linejoin="round">←</text>
<text x="1794.3" y="1147.9" font-size="26.4" stroke="#000" stroke-width="0.2" stroke-linejoin="round">50 kD</text>
<text x="1754.4" y="1226.79" font-size="39.7" style="font-weight:normal;" stroke="#000" stroke-width="0.25" stroke-linejoin="round">←</text>
<text x="1794.3" y="1226.6" font-size="26.4" stroke="#000" stroke-width="0.2" stroke-linejoin="round">60 kD</text>
<text x="1757.63" y="1298.75" font-size="40.03" style="font-weight:normal;" stroke="#000" stroke-width="0.25" stroke-linejoin="round">←</text>
<text x="1797.4" y="1298.8" font-size="26.4" stroke="#000" stroke-width="0.2" stroke-linejoin="round">17 kD</text>
<text x="1756.23" y="1380.55" font-size="40.03" style="font-weight:normal;" stroke="#000" stroke-width="0.25" stroke-linejoin="round">←</text>
<text x="1795.6" y="1381.2" font-size="26.4" stroke="#000" stroke-width="0.2" stroke-linejoin="round">36 kD</text>
<text x="1758.13" y="1480.25" font-size="40.03" style="font-weight:normal;" stroke="#000" stroke-width="0.25" stroke-linejoin="round">←</text>
<text x="1797.5" y="1480.4" font-size="26.4" stroke="#000" stroke-width="0.2" stroke-linejoin="round">65 kD</text>
<text x="1757.63" y="1556.25" font-size="40.03" style="font-weight:normal;" stroke="#000" stroke-width="0.25" stroke-linejoin="round">←</text>
<text x="1797" y="1555.8" font-size="26.4" stroke="#000" stroke-width="0.2" stroke-linejoin="round">65 kD</text>
</svg>
</body></html>
